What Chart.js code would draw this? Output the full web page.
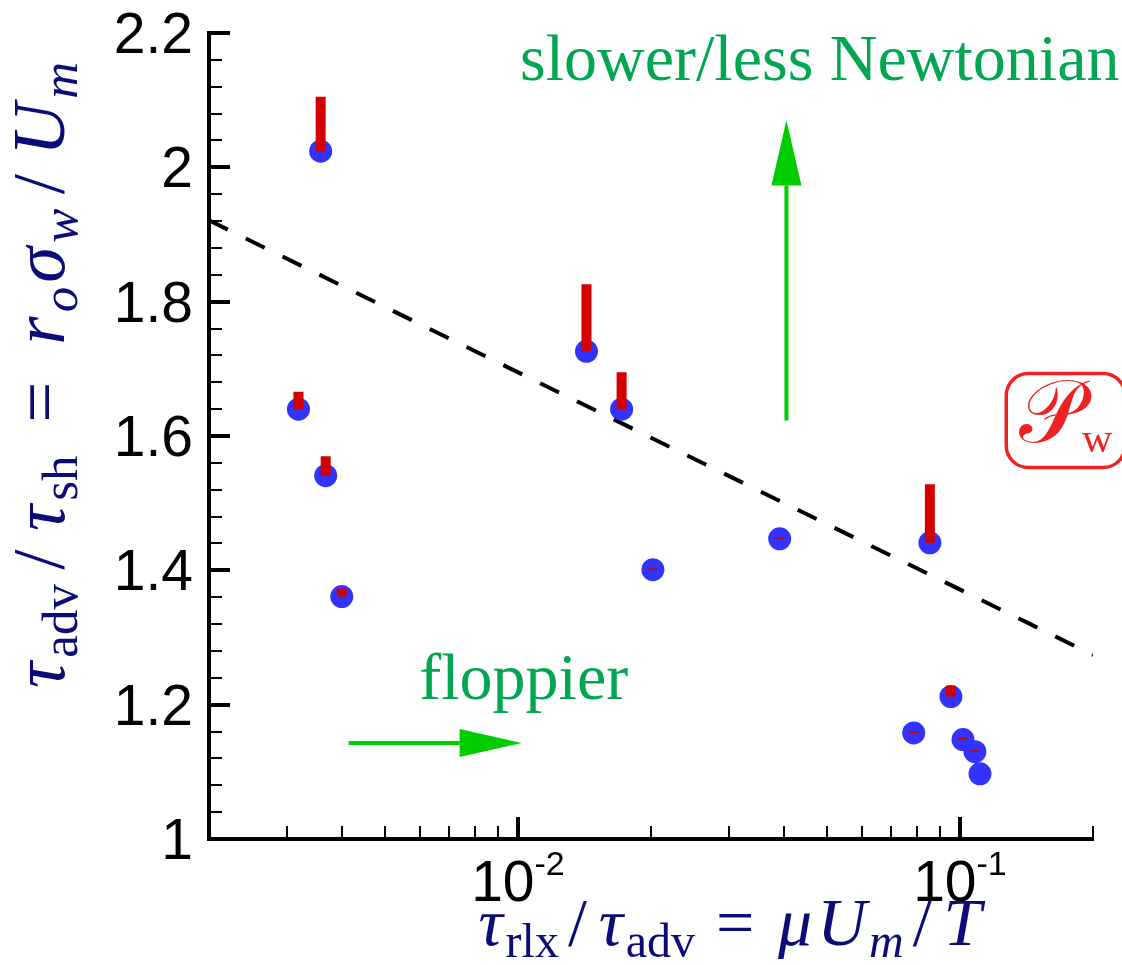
<!DOCTYPE html>
<html>
<head>
<meta charset="utf-8">
<script src="https://cdn.jsdelivr.net/npm/chart.js@4.4.1/dist/chart.umd.min.js"></script>
<style>
  html, body { margin: 0; padding: 0; background: #fff; }
  canvas { display: block; }
</style>
</head>
<body>
<canvas id="chart" width="1122" height="965"></canvas>
<script>
// Data
const xVals = [0.003578, 0.003187, 0.003673, 0.003994, 0.01429, 0.01716, 0.0202, 0.0391, 0.0855, 0.0954, 0.0786, 0.1016, 0.1081, 0.111];
const yVals = [2.024, 1.640, 1.541, 1.361, 1.726, 1.640, 1.401, 1.447, 1.441, 1.212, 1.158, 1.148, 1.130, 1.097];
// top of the red bar drawn up from each point (null = no bar)
const yTops = [2.105, 1.666, 1.570, 1.373, 1.826, 1.695, 1.403, 1.449, 1.528, 1.228, 1.160, 1.151, 1.132, null];

// dashed trend line (straight in log-x)
const fitX = [0.002, 0.2];
const fitY = [1.921, 1.274];

// axis ticks
const yTicks = [1, 1.2, 1.4, 1.6, 1.8, 2, 2.2];
const yTickLabels = ['1', '1.2', '1.4', '1.6', '1.8', '2', '2.2'];
const xMajor = [0.01, 0.1];
const xMajorExp = ['-2', '-1'];

// Colours
const colors = {
  axis: '#000000',
  point: '#3333ff',
  bar: '#d40000',
  title: '#0c0c78',
  note: '#00a651',
  arrow: '#00cc00',
  box: '#ee2222'
};

const serif = '"Liberation Serif", "Times New Roman", serif';
const sans = '"Liberation Sans", Arial, sans-serif';

// build the bar segments (gap between bars with a null y)
const barSegs = [];
xVals.forEach((x, i) => {
  if (yTops[i] === null) return;
  barSegs.push({ x: x, y: yVals[i] });
  barSegs.push({ x: x, y: yTops[i] });
  barSegs.push({ x: x, y: null });
});

const points = xVals.map((x, i) => ({ x: x, y: yVals[i] }));
const fitPts = fitX.map((x, i) => ({ x: x, y: fitY[i] }));

// draw a row of text pieces (math-like) centred on x;
// pieces with sp get extra room on both sides (weighted) to reach the target width
function drawRuns(ctx, runs, x, y, target) {
  let total = 0, slots = 0;
  runs.forEach(r => {
    ctx.font = r.font;
    r.w = ctx.measureText(r.t).width;
    total += r.w;
    if (r.sp) slots += 2 * r.sp;
  });
  let extra = 0;
  if (target && slots) extra = Math.max(0, (target - total) / slots);
  let cx = x - (total + extra * slots) / 2;
  runs.forEach(r => {
    const pad = r.sp ? extra * r.sp : 0;
    cx += pad;
    ctx.font = r.font;
    ctx.fillText(r.t, cx, y + (r.dy || 0));
    cx += r.w + pad;
  });
}

function fonts(size) {
  const sub = Math.round(size * 0.7);
  return {
    it: 'italic ' + size + 'px ' + serif,
    rm: size + 'px ' + serif,
    subRm: sub + 'px ' + serif,
    subIt: 'italic ' + sub + 'px ' + serif,
    dy: Math.round(size * 0.18)
  };
}

const fx = fonts(68);
const xTitleRuns = [
  { t: 'τ', font: fx.it, sp: 0.1 },
  { t: 'rlx', font: fx.subRm, dy: fx.dy },
  { t: '/', font: fx.rm, sp: 0.35 },
  { t: 'τ', font: fx.it, sp: 0.1 },
  { t: 'adv', font: fx.subRm, dy: fx.dy },
  { t: '=', font: fx.rm, sp: 0.8 },
  { t: 'μ', font: fx.it, sp: 0.1 },
  { t: 'U', font: fx.it, sp: 0.1 },
  { t: 'm', font: fx.subIt, dy: fx.dy },
  { t: '/', font: fx.rm, sp: 0.35 },
  { t: 'T', font: fx.it, sp: 0.1 }
];

const fy = fonts(73);
const yTitleRuns = [
  { t: 'τ', font: fy.it, sp: 0.1 },
  { t: 'adv', font: fy.subRm, dy: fy.dy },
  { t: '/', font: fy.rm, sp: 0.35 },
  { t: 'τ', font: fy.it, sp: 0.1 },
  { t: 'sh', font: fy.subRm, dy: fy.dy },
  { t: '=', font: fy.rm, sp: 0.8 },
  { t: 'r', font: fy.it, sp: 0.1 },
  { t: 'o', font: fy.subIt, dy: fy.dy },
  { t: 'σ', font: fy.it, sp: 0.1 },
  { t: 'w', font: fy.subIt, dy: fy.dy },
  { t: '/', font: fy.rm, sp: 0.35 },
  { t: 'U', font: fy.it, sp: 0.1 },
  { t: 'm', font: fy.subIt, dy: fy.dy }
];

function arrow(ctx, x0, y0, x1, y1, bx, by, half) {
  ctx.strokeStyle = colors.arrow;
  ctx.fillStyle = colors.arrow;
  ctx.lineWidth = 4;
  ctx.beginPath();
  ctx.moveTo(x0, y0);
  ctx.lineTo(bx, by);
  ctx.stroke();
  // head
  const dx = x1 - bx, dy = y1 - by;
  const len = Math.hypot(dx, dy);
  const nx = -dy / len, ny = dx / len;
  ctx.beginPath();
  ctx.moveTo(x1, y1);
  ctx.lineTo(bx + nx * half, by + ny * half);
  ctx.lineTo(bx - nx * half, by - ny * half);
  ctx.closePath();
  ctx.fill();
}

// Axis decorations: inward ticks, labels, titles, notes
const decor = {
  id: 'decor',
  afterDraw(chart) {
    const ctx = chart.ctx;
    const xs = chart.scales.x, ys = chart.scales.y;
    const area = chart.chartArea;
    ctx.save();

    // y ticks
    ctx.strokeStyle = colors.axis;
    for (let v = 1; v <= 2.2001; v += 0.04) {
      const py = Math.round(ys.getPixelForValue(v));
      const major = yTicks.some(t => Math.abs(t - v) < 1e-6);
      ctx.lineWidth = major ? 4 : 2;
      ctx.beginPath();
      ctx.moveTo(area.left, py);
      ctx.lineTo(area.left + (major ? 21 : 13), py);
      ctx.stroke();
    }
    // x ticks
    for (let k = -3; k <= -1; k++) {
      for (let m = 1; m <= 9; m++) {
        const v = m * Math.pow(10, k);
        if (v < 0.00199 || v > 0.2001) continue;
        const px = Math.round(xs.getPixelForValue(v));
        const major = m === 1;
        ctx.lineWidth = major ? 4 : 2;
        ctx.beginPath();
        ctx.moveTo(px, area.bottom);
        ctx.lineTo(px, area.bottom - (major ? 22 : 13));
        ctx.stroke();
      }
    }

    // y tick labels
    ctx.fillStyle = colors.axis;
    ctx.textAlign = 'right';
    ctx.textBaseline = 'alphabetic';
    ctx.font = '57px ' + sans;
    yTicks.forEach((v, i) => {
      const py = ys.getPixelForValue(v);
      ctx.fillText(yTickLabels[i], area.left - 16, py + 20);
    });

    // x tick labels 10^k
    ctx.textAlign = 'left';
    xMajor.forEach((v, i) => {
      const px = xs.getPixelForValue(v);
      ctx.font = '57px ' + sans;
      const w1 = ctx.measureText('10').width;
      ctx.font = '34px ' + sans;
      const w2 = ctx.measureText(xMajorExp[i]).width;
      const left = px - (w1 + w2) / 2;
      ctx.font = '57px ' + sans;
      ctx.fillText('10', left, area.bottom + 62);
      ctx.font = '34px ' + sans;
      ctx.fillText(xMajorExp[i], left + w1, area.bottom + 36);
    });

    // axis titles
    ctx.fillStyle = colors.title;
    ctx.textAlign = 'left';
    drawRuns(ctx, xTitleRuns, 730, 945, 508);
    ctx.save();
    ctx.translate(64, 377);
    ctx.rotate(-Math.PI / 2);
    drawRuns(ctx, yTitleRuns, 0, 0, 630);
    ctx.restore();

    // notes
    ctx.fillStyle = colors.note;
    ctx.font = '66px ' + serif;
    ctx.fillText('slower/less Newtonian', xs.getPixelForValue(0.01011), ys.getPixelForValue(2.130));
    ctx.fillText('floppier', xs.getPixelForValue(0.00598), ys.getPixelForValue(1.2087));

    // arrows
    const ax = xs.getPixelForValue(0.0405);
    arrow(ctx, ax, ys.getPixelForValue(1.623), ax, ys.getPixelForValue(2.070),
          ax, ys.getPixelForValue(1.973), 15);
    const ay = ys.getPixelForValue(1.143);
    arrow(ctx, xs.getPixelForValue(0.00414), ay, xs.getPixelForValue(0.0102), ay,
          xs.getPixelForValue(0.00738), ay, 14);

    // P_w box
    const bl = xs.getPixelForValue(0.1273), br = xs.getPixelForValue(0.2364);
    const bt = ys.getPixelForValue(1.693), bb = ys.getPixelForValue(1.553);
    ctx.strokeStyle = colors.box;
    ctx.lineWidth = 3.5;
    ctx.beginPath();
    ctx.roundRect(bl, bt, br - bl, bb - bt, 22);
    ctx.stroke();
    ctx.fillStyle = colors.box;
    drawRuns(ctx, [
      { t: '𝒫', font: '88px ' + serif },
      { t: 'w', font: '42px ' + serif, dy: 10 }
    ], (bl + br) / 2, bt + 68);

    ctx.restore();
  }
};

new Chart(document.getElementById('chart'), {
  type: 'scatter',
  data: {
    datasets: [
      {
        label: 'range',
        data: barSegs,
        showLine: true,
        spanGaps: false,
        borderColor: colors.bar,
        borderWidth: 10,
        borderCapStyle: 'butt',
        pointRadius: 0,
        pointHoverRadius: 0,
        order: 0
      },
      {
        label: 'cases',
        data: points,
        backgroundColor: colors.point,
        borderWidth: 0,
        pointRadius: 11.5,
        pointHoverRadius: 11.5,
        order: 1
      },
      {
        label: 'fit',
        data: fitPts,
        showLine: true,
        borderColor: colors.axis,
        borderWidth: 4,
        borderDash: [21, 20],
        pointRadius: 0,
        pointHoverRadius: 0,
        order: 2
      }
    ]
  },
  options: {
    responsive: false,
    animation: false,
    layout: { padding: { left: 209, right: 29, top: 33, bottom: 126 } },
    plugins: { legend: { display: false }, tooltip: { enabled: false } },
    scales: {
      x: {
        type: 'logarithmic',
        min: 0.002,
        max: 0.2,
        ticks: { display: false },
        grid: { display: false, drawTicks: false },
        border: { color: colors.axis, width: 4 }
      },
      y: {
        type: 'linear',
        min: 1,
        max: 2.2,
        ticks: { display: false },
        grid: { display: false, drawTicks: false },
        border: { color: colors.axis, width: 4 }
      }
    }
  },
  plugins: [decor]
});
</script>
</body>
</html>
